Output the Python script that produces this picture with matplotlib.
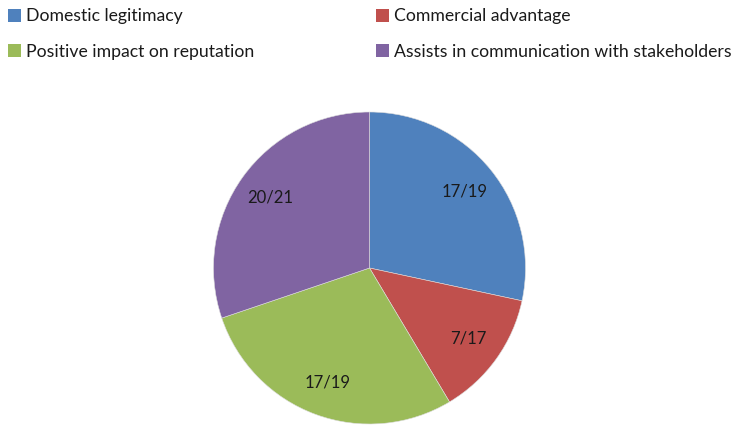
import matplotlib
matplotlib.use("Agg")
import matplotlib.pyplot as plt

categories = ["Domestic legitimacy", "Commercial advantage",
              "Positive impact on reputation", "Assists in communication with stakeholders"]
numerators = [17, 7, 17, 20]
denominators = [19, 17, 19, 21]
values = [n / d for n, d in zip(numerators, denominators)]
labels = [f"{n}/{d}" for n, d in zip(numerators, denominators)]
colors = ["#4F81BD", "#C0504D", "#9BBB59", "#8064A2"]

plt.rcParams['font.family'] = ['Lato', 'DejaVu Sans']

fig = plt.figure(figsize=(7.36, 4.26), dpi=100)
ax = fig.add_axes([213.5 / 736, 2 / 426, 312 / 736, 312 / 426])
wedges, texts = ax.pie(values, labels=labels, colors=colors, startangle=90,
                       counterclock=False, labeldistance=0.78,
                       textprops=dict(fontsize=12, color="#1a1a1a"),
                       wedgeprops=dict(linewidth=0.4, edgecolor="#dddddd"))
for t in texts:
    t.set_ha("center")
    t.set_va("center")
ax.set_xlim(-1, 1)
ax.set_ylim(-1, 1)
ax.set_aspect("equal")

leg = fig.legend([wedges[i] for i in [0, 2, 1, 3]], [categories[i] for i in [0, 2, 1, 3]],
                 ncol=2, loc="upper left", bbox_to_anchor=(0.0, 1.0),
                 frameon=False, fontsize=12.7, handlelength=0.72, handleheight=0.72,
                 handletextpad=0.3, columnspacing=6.9, labelspacing=1.1,
                 borderaxespad=0.08, labelcolor="#1a1a1a")
for h in leg.legend_handles:
    h.set_edgecolor("none")

fig.savefig("out.png", dpi=100)
